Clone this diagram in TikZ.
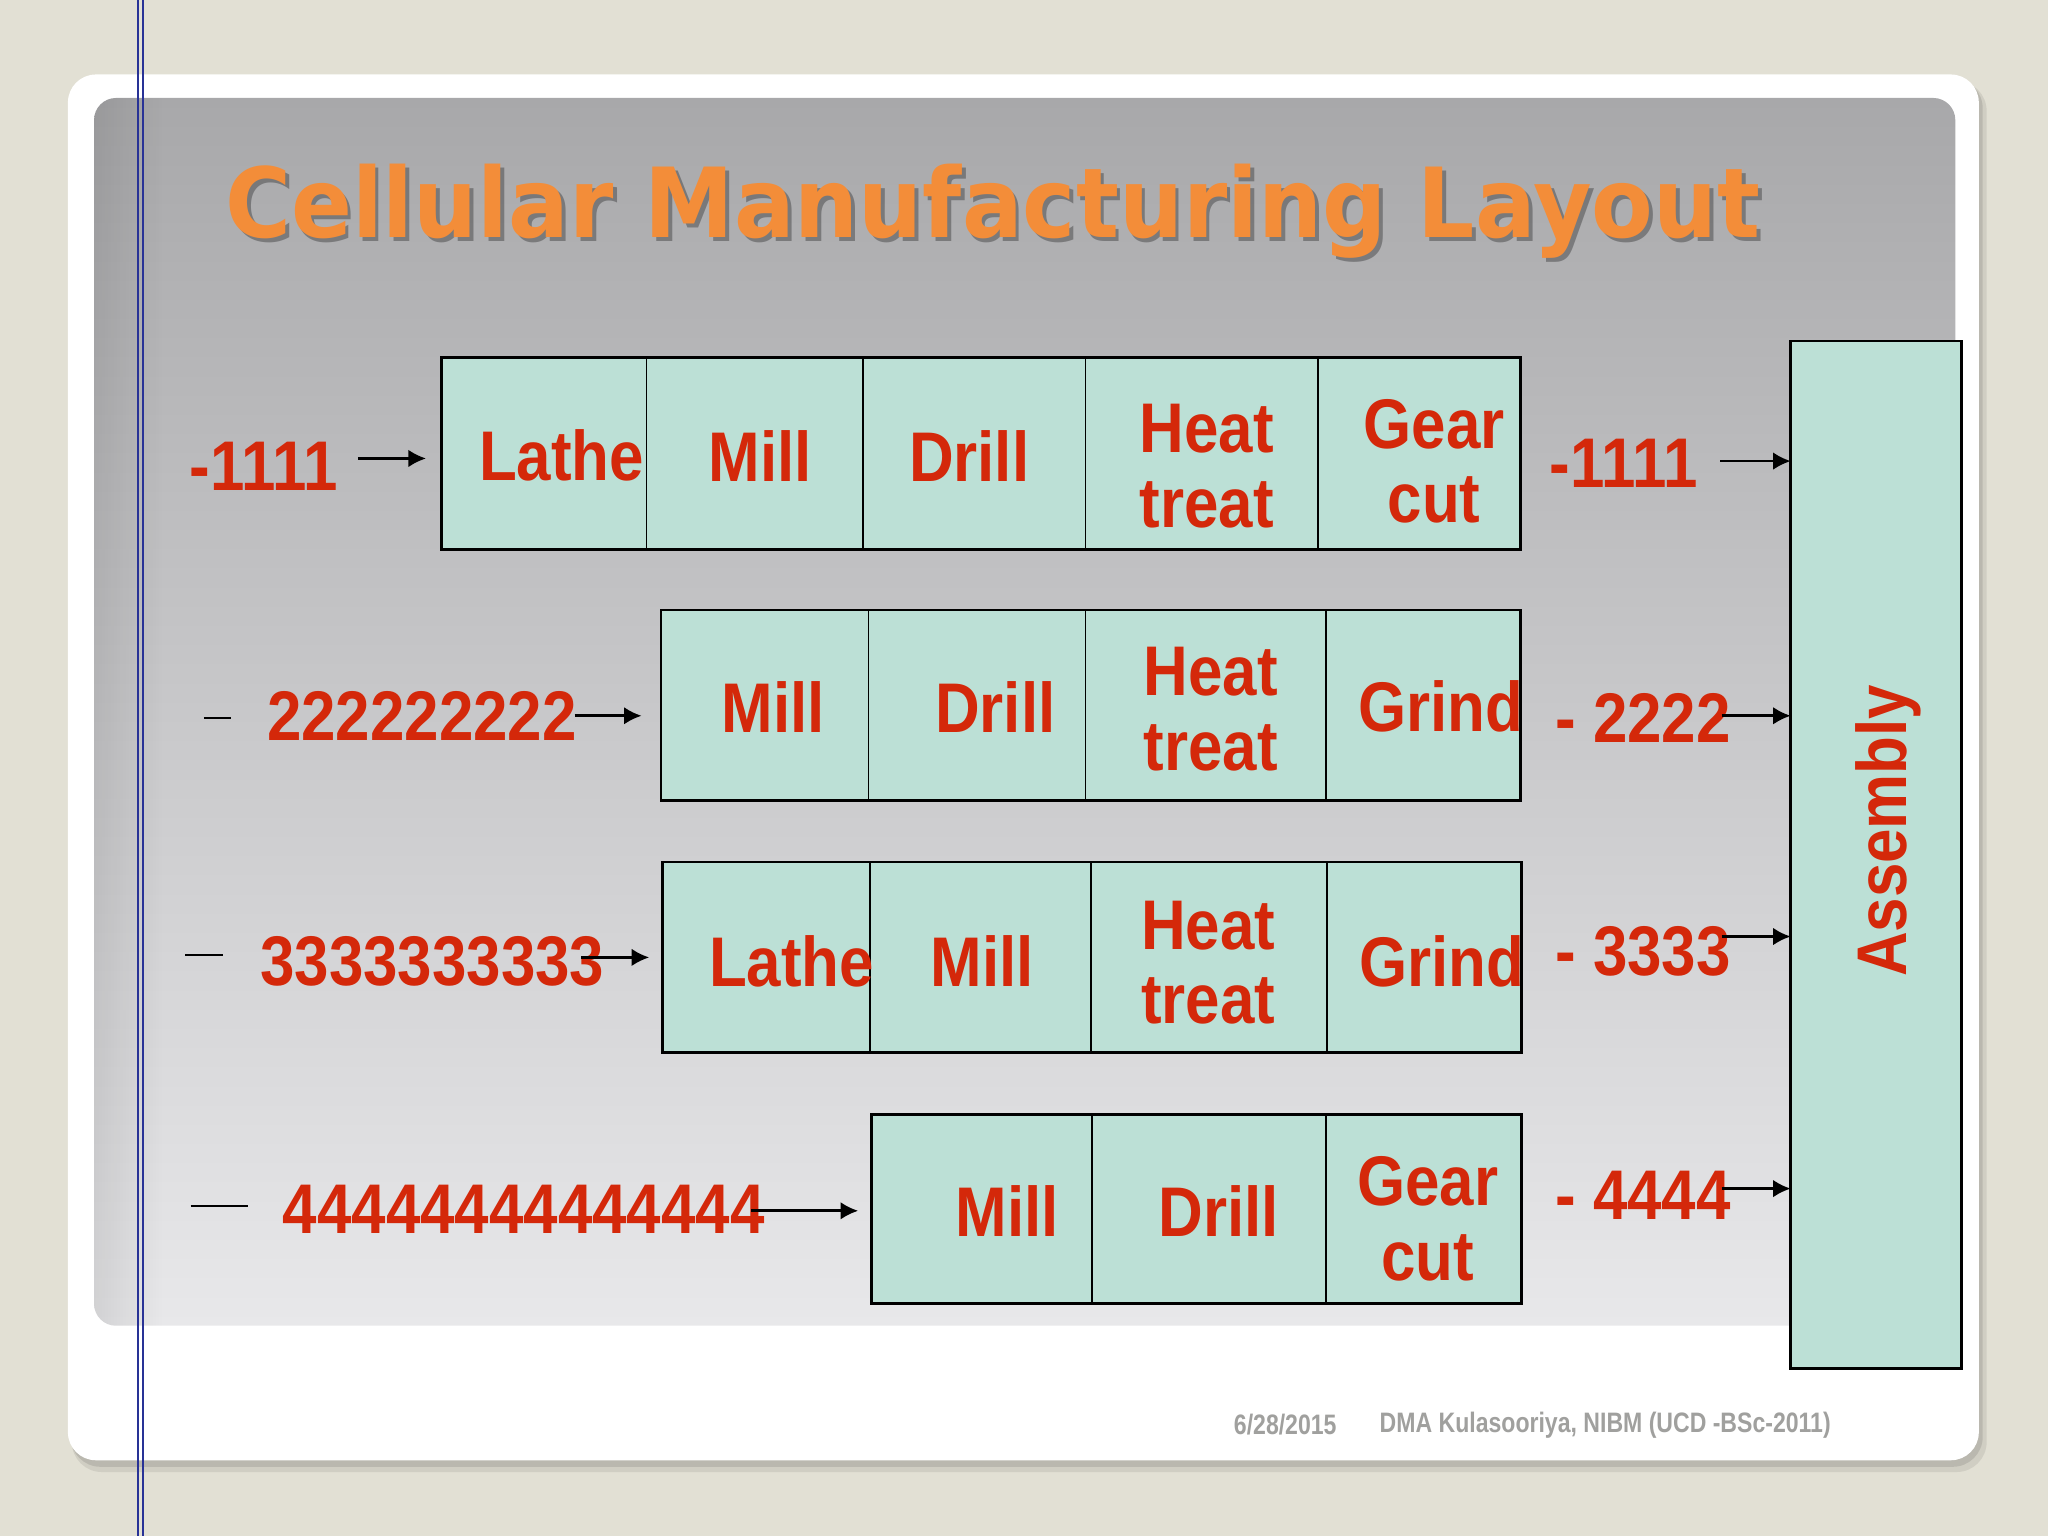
\documentclass[tikz,border=0pt]{standalone}
\usepackage{fontspec}
\newfontfamily\lblfont[FakeStretch=0.88]{Liberation Sans}
\newfontfamily\footfont[FakeStretch=0.82]{Liberation Sans}
\newfontfamily\ttlfont[FakeStretch=0.93]{DejaVu Sans}
\usetikzlibrary{arrows.meta,fadings}
\newcommand\pxu{0.1306mm}
\definecolor{bgbeige}{RGB}{226,224,212}
\definecolor{grytop}{RGB}{168,168,170}
\definecolor{grybot}{RGB}{232,232,234}
\definecolor{cellfill}{RGB}{188,224,214}
\definecolor{lblred}{RGB}{212,40,10}
\definecolor{ttlorange}{RGB}{243,141,57}
\definecolor{footgray}{RGB}{160,160,158}
\definecolor{rulebl}{RGB}{40,50,150}
\begin{document}
\begin{tikzpicture}[x=\pxu, y=-\pxu,
cell/.style={draw, line width=0.5pt, fill=cellfill, inner sep=0pt, outer sep=0pt, anchor=north west},
rowline/.style={line width=0.8pt},
lbl/.style={text=lblred, font=\lblfont\bfseries\fontsize{20}{21.2}\selectfont, inner sep=0pt, align=center},
ttl/.style={font=\ttlfont\bfseries\fontsize{27.5}{30}\selectfont, inner sep=0pt, anchor=base},
foot/.style={text=footgray, font=\footfont\bfseries\fontsize{8}{9}\selectfont, inner sep=0pt},
flow/.style={line width=0.75pt, -{Latex[length=5pt, width=5pt]}},
tick/.style={line width=0.6pt}]
\useasboundingbox (0,0) rectangle (1568,1176);
\fill[bgbeige] (0,0) rectangle (1568,1176);
\fill[black, opacity=0.08, rounded corners=3mm] (55,62) rectangle (1521,1127);
\fill[black, opacity=0.10, rounded corners=3mm] (54,60) rectangle (1518,1123);
\fill[white, rounded corners=2.8mm] (52,57) rectangle (1515,1118);
\shade[top color=grytop, bottom color=grybot, rounded corners=2.2mm] (72,75) rectangle (1497,1015);
\begin{scope}
\clip[rounded corners=2.2mm] (72,75) rectangle (1497,1015);
\fill[black, opacity=0.09, path fading=east] (72,75) rectangle (125,1015);
\end{scope}

\node[ttl, text=black, opacity=0.3] (ttlsh) at (763,185) {Cellular Manufacturing Layout};
\node[ttl, text=ttlorange] (ttl) at (760,182) {Cellular Manufacturing Layout};

\node[cell, minimum width=157*\pxu, minimum height=147*\pxu] (c11) at (338,274){};
\node[cell, minimum width=166*\pxu, minimum height=147*\pxu] (c12) at (c11.north east){};
\node[cell, minimum width=170*\pxu, minimum height=147*\pxu] (c13) at (c12.north east){};
\node[cell, minimum width=178*\pxu, minimum height=147*\pxu] (c14) at (c13.north east){};
\node[cell, minimum width=155*\pxu, minimum height=147*\pxu] (c15) at (c14.north east){};
\draw[rowline] (c11.north west) rectangle (c15.south east);
\node[lbl] (t11) at (430,349){Lathe};
\node[lbl] (t12) at (582,349){Mill};
\node[lbl] (t13) at (742,349){Drill};
\node[lbl] (t14) at (924,357){Heat\\treat};
\node[lbl] (t15) at (1098,353){Gear\\cut};

\node[cell, minimum width=159*\pxu, minimum height=146*\pxu] (c21) at (506,467){};
\node[cell, minimum width=166*\pxu, minimum height=146*\pxu] (c22) at (c21.north east){};
\node[cell, minimum width=184*\pxu, minimum height=146*\pxu] (c23) at (c22.north east){};
\node[cell, minimum width=149*\pxu, minimum height=146*\pxu] (c24) at (c23.north east){};
\draw[rowline] (c21.north west) rectangle (c24.south east);
\node[lbl] (t21) at (592,541){Mill};
\node[lbl] (t22) at (762,541){Drill};
\node[lbl] (t23) at (927,543){Heat\\treat};
\node[lbl] (t24) at (1103,541){Grind};

\node[cell, minimum width=159*\pxu, minimum height=146*\pxu] (c31) at (507,660){};
\node[cell, minimum width=169*\pxu, minimum height=146*\pxu] (c32) at (c31.north east){};
\node[cell, minimum width=181*\pxu, minimum height=146*\pxu] (c33) at (c32.north east){};
\node[cell, minimum width=149*\pxu, minimum height=146*\pxu] (c34) at (c33.north east){};
\draw[rowline] (c31.north west) rectangle (c34.south east);
\node[lbl] (t31) at (606,736){Lathe};
\node[lbl] (t32) at (752,736){Mill};
\node[lbl] (t33) at (925,737){Heat\\treat};
\node[lbl] (t34) at (1104,736){Grind};

\node[cell, minimum width=169*\pxu, minimum height=145*\pxu] (c41) at (667,853){};
\node[cell, minimum width=179*\pxu, minimum height=145*\pxu] (c42) at (c41.north east){};
\node[cell, minimum width=150*\pxu, minimum height=145*\pxu] (c43) at (c42.north east){};
\draw[rowline] (c41.north west) rectangle (c43.south east);
\node[lbl] (t41) at (771,927){Mill};
\node[lbl] (t42) at (933,927){Drill};
\node[lbl] (t43) at (1093,933){Gear\\cut};

\node[cell, line width=0.8pt, minimum width=131*\pxu, minimum height=787*\pxu] (asm) at (1371,261){};
\node[lbl, rotate=90] (asmt) at (1446,636){Assembly};

\node[lbl] (in1) at (202,357){-1111};
\node[lbl] (in2) at (323,548){222222222};
\node[lbl] (in3) at (331,736){3333333333};
\node[lbl] (in4) at (401,926){44444444444444};
\draw[tick] (156,550) -- (177,550);
\draw[tick] (142,731) -- (171,731);
\draw[tick] (146,923) -- (190,923);

\node[lbl] (out1) at (1243,355){-1111};
\node[lbl] (out2) at (1258,550){- 2222};
\node[lbl] (out3) at (1258,728){- 3333};
\node[lbl] (out4) at (1258,915){- 4444};

\coordinate (s1) at (274,351);
\coordinate (s2) at (440,548);
\coordinate (s3) at (445,733);
\coordinate (s4) at (575,927);
\draw[flow, shorten >=4.4pt] (s1) -- (s1 -| c11.west);
\draw[flow, shorten >=5.5pt] (s2) -- (s2 -| c21.west);
\draw[flow, shorten >=3.7pt] (s3) -- (s3 -| c31.west);
\draw[flow, shorten >=3.7pt] (s4) -- (s4 -| c41.west);

\coordinate (e1) at (1317,353);
\coordinate (e2) at (1318,548);
\coordinate (e3) at (1318,717);
\coordinate (e4) at (1318,910);
\draw[flow] (e1) -- (e1 -| asm.west);
\draw[flow] (e2) -- (e2 -| asm.west);
\draw[flow] (e3) -- (e3 -| asm.west);
\draw[flow] (e4) -- (e4 -| asm.west);

\node[foot] (date) at (984,1091){6/28/2015};
\node[foot] (auth) at (1229,1091){DMA Kulasooriya, NIBM (UCD -BSc-2011)};

\draw[rulebl, line width=0.7pt] (105.7,0) -- (105.7,1176);
\draw[rulebl, line width=0.7pt] (109.5,0) -- (109.5,1176);
\end{tikzpicture}
\end{document}
